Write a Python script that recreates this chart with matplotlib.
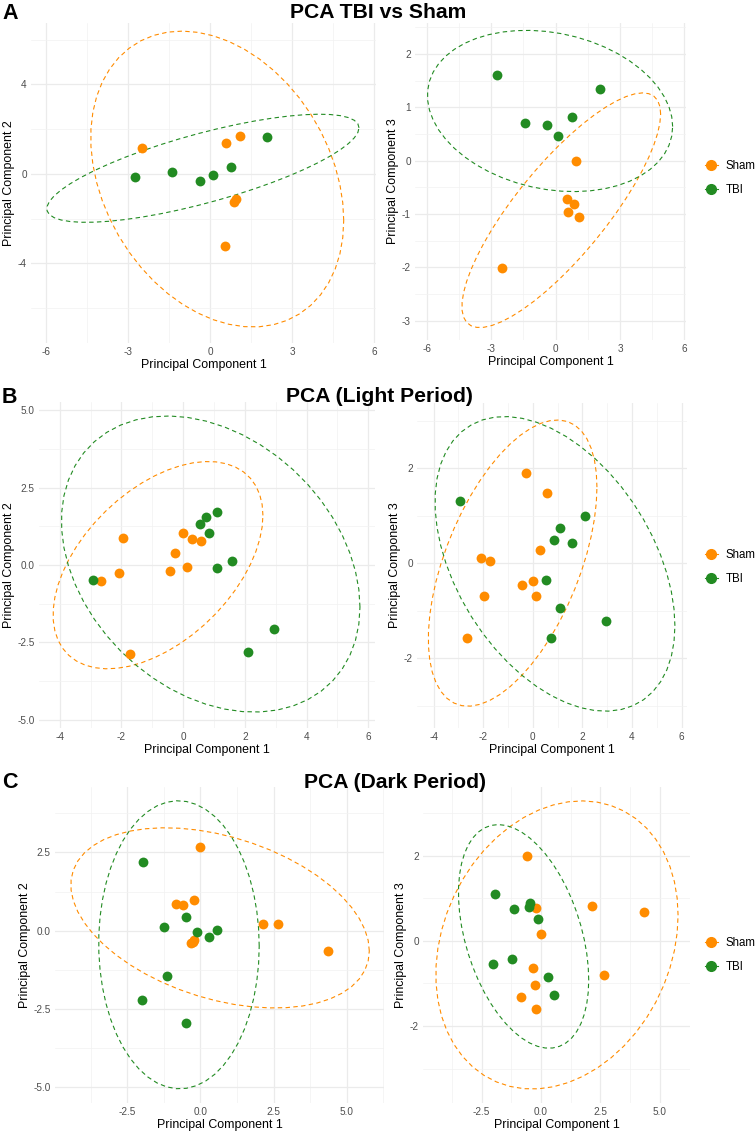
import numpy as np
import matplotlib
matplotlib.use("Agg")
import matplotlib.pyplot as plt
from matplotlib.lines import Line2D

plt.rcParams['font.family'] = ['Liberation Sans', 'DejaVu Sans']
plt.rcParams['axes.unicode_minus'] = False

# -----------------------------------
# data: PCA scores
# -----------------------------------
# A: TBI vs Sham
sham_a_pc1 = [-2.48, 0.58, 1.11, 0.95, 0.86, 0.55]
sham_a_pc2 = [1.14, 1.36, 1.70, -1.11, -1.28, -3.21]
sham_a_pc3 = [-2.01, -0.96, -1.06, -0.01, -0.81, -0.72]
tbi_a_pc1 = [-2.73, -1.41, -0.38, 0.11, 0.76, 2.08]
tbi_a_pc2 = [-0.16, 0.08, -0.31, -0.07, 0.32, 1.63]
tbi_a_pc3 = [1.61, 0.70, 0.67, 0.46, 0.81, 1.34]

# B: light period
sham_b_pc1 = [-2.65, -2.09, -1.96, -1.71, -0.43, -0.27, 0.00, 0.12, 0.29, 0.57]
sham_b_pc2 = [-0.53, -0.27, 0.87, -2.87, -0.21, 0.39, 1.03, -0.05, 0.83, 0.76]
sham_b_pc3 = [-1.57, 0.10, -0.69, 0.05, -0.45, 1.89, -0.37, -0.70, 0.28, 1.47]
tbi_b_pc1 = [-2.93, 0.55, 0.75, 0.85, 1.09, 1.11, 1.58, 2.10, 2.95]
tbi_b_pc2 = [-0.49, 1.31, 1.54, 1.05, -0.10, 1.71, 0.14, -2.81, -2.07]
tbi_b_pc3 = [1.30, -0.36, -1.58, 0.49, -0.94, 0.74, 0.42, 1.00, -1.21]

# C: dark period
sham_c_pc1 = [-0.85, -0.60, -0.32, -0.25, -0.23, -0.21, -0.01, 2.15, 2.66, 4.35]
sham_c_pc2 = [0.87, 0.83, -0.38, -0.35, 0.97, -0.31, 2.68, 0.22, 0.22, -0.64]
sham_c_pc3 = [-1.32, 2.00, -0.65, -1.03, 0.77, -1.61, 0.16, 0.82, -0.80, 0.67]
tbi_c_pc1 = [-2.01, -1.96, -1.24, -1.15, -0.50, -0.48, -0.11, 0.28, 0.55]
tbi_c_pc2 = [-2.22, 2.20, 0.13, -1.43, -2.95, 0.45, -0.04, -0.20, 0.03]
tbi_c_pc3 = [-0.54, 1.09, -0.44, 0.75, 0.80, 0.89, 0.50, -0.85, -1.28]

groups = ["Sham", "TBI"]
colors = {"Sham": "#FF8C00", "TBI": "#228B22"}


# 95% normal data ellipse (sample mean + covariance, F quantile radius)
def ellipse(x, y, level=0.95, segments=51):
    pts = np.column_stack([x, y])
    loc = pts.mean(axis=0)
    cov = np.cov(pts, rowvar=False)
    dfd = len(x) - 1
    fq = dfd / 2 * ((1 - level) ** (-2 / dfd) - 1)   # qf(level, 2, dfd)
    radius = np.sqrt(2 * fq)
    R = np.linalg.cholesky(cov).T
    t = np.linspace(0, 2 * np.pi, segments + 1)
    circ = np.column_stack([np.cos(t), np.sin(t)])
    e = loc + radius * circ @ R
    return e[:, 0], e[:, 1]


# -----------------------------------
# layout (pixel boxes)
# -----------------------------------
W, H = 755, 1134
fig = plt.figure(figsize=(W / 100, H / 100), dpi=100)


def box(l, t, r, b):
    return [l / W, 1 - b / H, (r - l) / W, (b - t) / H]


panels = [
    # box, x data, y data, xlim, ylim, xticks, yticks, ylabel
    (box(31, 23, 376, 343), (sham_a_pc1, tbi_a_pc1), (sham_a_pc2, tbi_a_pc2),
     (-6.55, 6.07), (-7.56, 6.74), [-6, -3, 0, 3, 6], [-4, 0, 4], "Principal Component 2"),
    (box(415, 23, 686, 340), (sham_a_pc1, tbi_a_pc1), (sham_a_pc3, tbi_a_pc3),
     (-6.55, 6.07), (-3.36, 2.58), [-6, -3, 0, 3, 6], [-3, -2, -1, 0, 1, 2], "Principal Component 3"),
    (box(39, 402, 375, 728), (sham_b_pc1, tbi_b_pc1), (sham_b_pc2, tbi_b_pc2),
     (-4.67, 6.22), (-5.27, 5.27), [-4, -2, 0, 2, 4, 6], [-5.0, -2.5, 0.0, 2.5, 5.0], "Principal Component 2"),
    (box(417, 403, 687, 728), (sham_b_pc1, tbi_b_pc1), (sham_b_pc3, tbi_b_pc3),
     (-4.67, 6.22), (-3.47, 3.37), [-4, -2, 0, 2, 4, 6], [-2, 0, 2], "Principal Component 3"),
    (box(55, 787, 384, 1103), (sham_c_pc1, tbi_c_pc1), (sham_c_pc2, tbi_c_pc2),
     (-4.97, 6.27), (-5.50, 4.59), [-2.5, 0.0, 2.5, 5.0], [-5.0, -2.5, 0.0, 2.5], "Principal Component 2"),
    (box(423, 787, 690, 1103), (sham_c_pc1, tbi_c_pc1), (sham_c_pc3, tbi_c_pc3),
     (-4.97, 6.27), (-3.81, 3.61), [-2.5, 0.0, 2.5, 5.0], [-2, 0, 2], "Principal Component 3"),
]


def fmt(ticks):
    if any(isinstance(t, float) for t in ticks):
        return ["%.1f" % t for t in ticks]
    return [str(t) for t in ticks]


def minors(ticks, lim):
    step = ticks[1] - ticks[0]
    m = np.arange(ticks[0] - step / 2, lim[1] + step, step)
    return [v for v in m if lim[0] <= v <= lim[1]]


for pos, xs, ys, xlim, ylim, xt, yt, ylab in panels:
    ax = fig.add_axes(pos)
    ax.set_axisbelow(True)
    for g, x, y in zip(groups, xs, ys):
        ax.scatter(x, y, s=50, color=colors[g], linewidths=0, zorder=3)
        ex, ey = ellipse(x, y)
        ax.plot(ex, ey, color=colors[g], lw=0.8, ls=(0, (4, 3)), zorder=2)
    ax.set_xlim(xlim)
    ax.set_ylim(ylim)
    ax.set_xticks(xt)
    ax.set_xticklabels(fmt(xt))
    ax.set_yticks(yt)
    ax.set_yticklabels(fmt(yt))
    ax.set_xticks(minors(xt, xlim), minor=True)
    ax.set_yticks(minors(yt, ylim), minor=True)
    ax.grid(which='major', color='#EBEBEB', lw=0.9)
    ax.grid(which='minor', color='#F2F2F2', lw=0.5)
    for s in ax.spines.values():
        s.set_visible(False)
    ax.tick_params(which='both', length=0, labelsize=7.2, labelcolor='#4D4D4D', pad=3)
    ax.set_xlabel("Principal Component 1", fontsize=8.9, labelpad=1)
    ax.set_ylabel(ylab, fontsize=8.9, labelpad=2)

# legends, one per row
handles = [Line2D([0], [0], color=colors[g], marker='o', markersize=7, lw=0.8) for g in groups]
for yc in [178, 567, 955]:
    fig.legend(handles, groups, loc='center left', bbox_to_anchor=(704.5 / W, 1 - yc / H),
               frameon=False, fontsize=8.3, handlelength=1.2, handletextpad=0.65,
               labelspacing=1.1, borderpad=0, borderaxespad=0)

# panel letters and titles
titles = ["PCA TBI vs Sham", "PCA (Light Period)", "PCA (Dark Period)"]
title_x = [378, 379, 395]
title_y = [18, 402, 788]
letter_y = [19, 403, 788]
letters = ["A", "B", "C"]
for t, tx, ty, let, ly in zip(titles, title_x, title_y, letters, letter_y):
    fig.text(tx / W, 1 - ty / H, t, ha='center', va='baseline', fontsize=15.2, fontweight='bold')
    fig.text(2 / W, 1 - ly / H, let, ha='left', va='baseline', fontsize=15.5, fontweight='bold')

fig.savefig("out.png", dpi=100)
